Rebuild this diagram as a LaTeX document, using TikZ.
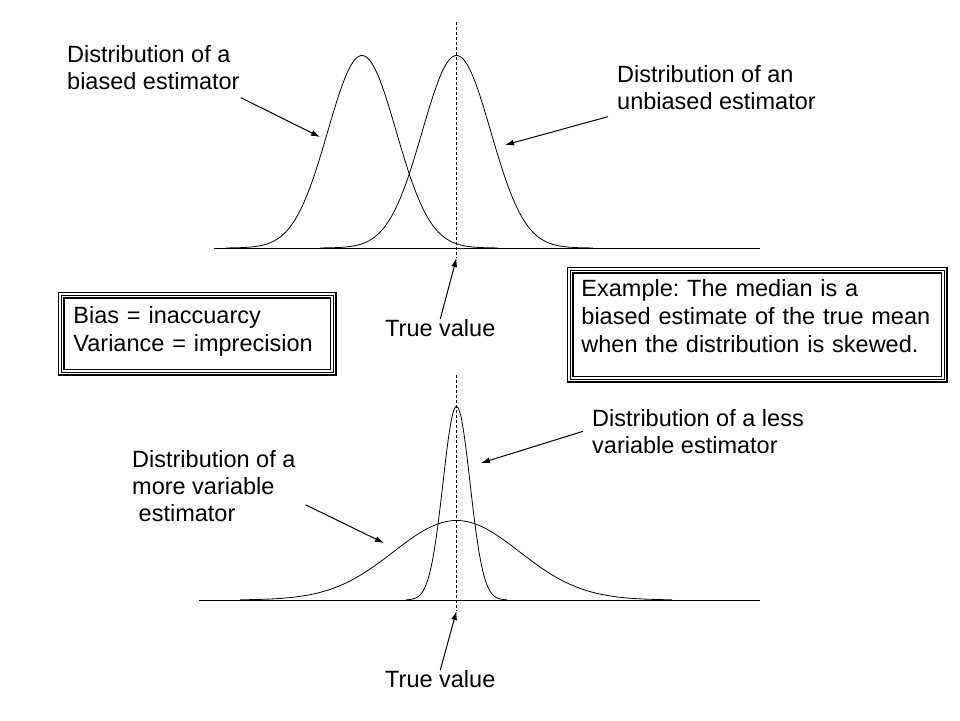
\documentclass[tikz,border=0pt]{standalone}
\usepackage{fontspec}
\setmainfont{Liberation Sans}
\frenchspacing
\usetikzlibrary{arrows.meta}
\newcommand{\labelfont}{\fontsize{23.5}{27}\selectfont}
\newcommand{\boxfont}{\fontsize{23.5}{28}\selectfont}
\tikzset{
  lbl/.style={anchor=north west, align=left, inner sep=0pt, font=\labelfont},
  curve/.style={line width=0.8pt, smooth, samples=90},
  axis/.style={line width=0.9pt},
  truth/.style={line width=0.8pt, dash pattern=on 3pt off 2pt},
  pointer/.style={line width=1pt, -{Latex[length=9pt,width=6pt]}},
  framed/.style={preaction={draw, line width=6.4pt}, preaction={draw=white, line width=4pt},
    draw, line width=0.9pt, anchor=north west, align=left, font=\boxfont}
}
\begin{document}
\begin{tikzpicture}[x=1pt, y=-1pt]
\useasboundingbox (0,0) rectangle (960,720);
% upper panel: biased vs unbiased
\draw[axis] (214,248) -- (760,248);
\draw[curve] plot[domain=226:498] (\x, {248-192.5*exp(-0.5*((\x-362)/34.2)^2)});
\draw[curve] plot[domain=320:593] (\x, {248-192.5*exp(-0.5*((\x-456.5)/34.2)^2)});
\coordinate (toptrue) at (456.5,258);
\draw[truth] (456.5,22) -- (toptrue);
\node[lbl] (biasedlbl) at (67,45) {Distribution of a\\biased estimator};
\node[lbl] (unbiasedlbl) at (617,65) {Distribution of an\\unbiased estimator};
\node[lbl] (truetop) at (385,319) {True value};
\coordinate (biasedtip) at (320,137);
\coordinate (unbiasedtip) at (505,145);
\draw[pointer] ([shift={(1pt,-8pt)}]biasedlbl.south east) -- (biasedtip);
\draw[pointer] ([shift={(-9pt,-7pt)}]unbiasedlbl.south west) -- (unbiasedtip);
\draw[pointer] (truetop.north) -- (toptrue);
% boxes
\node[framed, inner xsep=12pt, inner ysep=11pt, text width=248pt, text depth=38pt]
  (biasbox) at (61,295) {Bias = inaccuarcy\\Variance = imprecision};
\node[framed, inner xsep=11pt, inner ysep=9.5pt, text width=352pt, text depth=73pt]
  (medianbox) at (570,270) {Example: The median is a\\biased estimate of the true mean\\when the distribution is skewed.};
% lower panel: more vs less variable
\draw[axis] (199,600) -- (760,600);
\draw[curve] plot[domain=240:672] (\x, {600-79.5*exp(-0.5*((\x-456.5)/63)^2)});
\draw[curve] plot[domain=406:507] (\x, {600-193.5*exp(-0.5*((\x-456.5)/13.5)^2)});
\coordinate (bottomtrue) at (456.5,611);
\draw[truth] (456.5,375) -- (bottomtrue);
\node[lbl] (morelbl) at (132,450) {Distribution of a\\more variable\\\ estimator};
\node[lbl] (lesslbl) at (592,409) {Distribution of a less\\variable estimator};
\node[lbl] (truebottom) at (385,670) {True value};
\coordinate (moretip) at (384,543);
\coordinate (lesstip) at (481,463);
\draw[pointer] ([shift={(10pt,-19pt)}]morelbl.east) -- (moretip);
\draw[pointer] ([xshift=-9pt]lesslbl.west) -- (lesstip);
\draw[pointer] (truebottom.north) -- (bottomtrue);
\end{tikzpicture}
\end{document}
